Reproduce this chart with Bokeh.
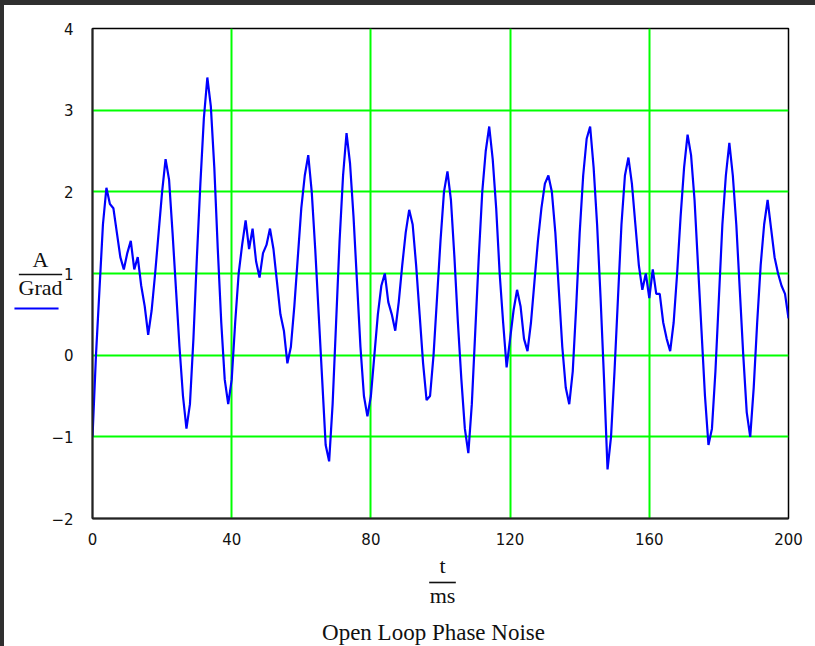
from bokeh.plotting import figure
from bokeh.models import Label, FixedTicker
from bokeh.embed import file_html
from bokeh.resources import INLINE

# ---- data ----
t_ms = list(range(0, 201))
amp = [
    -1.0, 0.0, 0.8, 1.6, 2.05, 1.85, 1.8, 1.5, 1.2, 1.05,
    1.25, 1.4, 1.05, 1.2, 0.85, 0.6, 0.25, 0.55, 1.0, 1.5,
    2.0, 2.4, 2.15, 1.5, 0.8, 0.1, -0.5, -0.9, -0.6, 0.2,
    1.2, 2.1, 2.9, 3.4, 3.05, 2.3, 1.3, 0.4, -0.3, -0.6,
    -0.3, 0.4, 1.0, 1.35, 1.65, 1.3, 1.55, 1.15, 0.95, 1.25,
    1.35, 1.55, 1.3, 0.9, 0.5, 0.3, -0.1, 0.1, 0.6, 1.2,
    1.8, 2.2, 2.45, 2.0, 1.3, 0.5, -0.3, -1.1, -1.3, -0.6,
    0.4, 1.4, 2.2, 2.72, 2.35, 1.7, 0.9, 0.1, -0.5, -0.75,
    -0.5, 0.0, 0.5, 0.85, 1.0, 0.65, 0.5, 0.3, 0.65, 1.1,
    1.5, 1.78, 1.6, 1.1, 0.5, -0.1, -0.55, -0.5, 0.0, 0.7,
    1.4, 2.0, 2.25, 1.9, 1.2, 0.4, -0.3, -0.9, -1.2, -0.6,
    0.3, 1.2, 2.0, 2.5, 2.8, 2.4, 1.8, 1.0, 0.4, -0.15,
    0.2, 0.55, 0.8, 0.6, 0.2, 0.05, 0.4, 0.9, 1.4, 1.8,
    2.1, 2.2, 2.0, 1.5, 0.8, 0.1, -0.4, -0.6, -0.2, 0.6,
    1.5, 2.2, 2.65, 2.8, 2.3, 1.6, 0.7, -0.3, -1.4, -1.0,
    -0.2, 0.7, 1.6, 2.2, 2.42, 2.1, 1.6, 1.1, 0.8, 1.0,
    0.7, 1.05, 0.75, 0.75, 0.4, 0.2, 0.05, 0.4, 1.0, 1.7,
    2.3, 2.7, 2.45, 1.9, 1.1, 0.3, -0.5, -1.1, -0.9, -0.2,
    0.7, 1.6, 2.2, 2.6, 2.2, 1.6, 0.8, 0.0, -0.7, -1.0,
    -0.4, 0.4, 1.1, 1.6, 1.9, 1.55, 1.2, 1.0, 0.85, 0.75,
    0.45,
]
x_ticks = [0, 40, 80, 120, 160, 200]
y_ticks = [-2, -1, 0, 1, 2, 3, 4]
y_tick_labels = {-2: "\u22122", -1: "\u22121", 0: "0", 1: "1", 2: "2", 3: "3", 4: "4"}
title_text = "Open Loop Phase Noise"
y_num, y_den = "A", "Grad"
x_num, x_den = "t", "ms"

GREEN = "#00ff00"
BLUE = "#0000ff"
SERIF = "Liberation Serif"
SANS = "DejaVu Sans"

p = figure(width=815, height=646, x_range=(0, 200), y_range=(-2, 4),
           output_backend="svg", toolbar_location=None,
           min_border_left=92, min_border_right=27, min_border_top=28,
           min_border_bottom=128)
p.background_fill_color = "white"
p.border_fill_color = "white"
p.outline_line_color = "black"
p.outline_line_width = 1.5

for ax, ticks in ((p.xaxis, x_ticks), (p.yaxis, y_ticks)):
    ax.ticker = FixedTicker(ticks=ticks)
    ax.major_tick_line_color = None
    ax.minor_tick_line_color = None
    ax.axis_line_color = "#222222"
    ax.axis_line_width = 2
    ax.major_label_text_font = SANS
    ax.major_label_text_font_size = "15px"
    ax.major_label_text_color = "#111111"
p.yaxis.major_label_overrides = y_tick_labels
p.xaxis.major_label_standoff = 8
p.yaxis.major_label_standoff = 13

p.xgrid.ticker = FixedTicker(ticks=x_ticks)
p.ygrid.ticker = FixedTicker(ticks=y_ticks)
for g in (p.xgrid, p.ygrid):
    g.grid_line_color = GREEN
    g.grid_line_width = 2

p.line(t_ms, amp, line_color=BLUE, line_width=2.2)

BASE_SHIFT = -8  # measured offset between requested and drawn baseline


# Labels live in the side panels (so they are not clipped to the frame);
# their positions are given in canvas pixels.
def lab(text, px, py_base, side, size="22px"):
    p.add_layout(Label(x=px, y=py_base + BASE_SHIFT, x_units="canvas", y_units="canvas",
                       text=text, text_font=SERIF, text_font_size=size,
                       text_align="center", text_baseline="alphabetic",
                       text_color="#111111"), side)


def bar(cx, length, py, color, thick, side="below"):
    fs = thick / 1.15
    n = max(1, int(round(length / (0.318 * fs))))
    p.add_layout(Label(x=cx, y=py, x_units="canvas", y_units="canvas",
                       text="\u00a0" * n, text_font=SANS,
                       text_font_size=f"{fs:.2f}px", text_align="center",
                       text_baseline="middle", background_fill_color=color,
                       background_fill_alpha=1.0, text_color=color), side)


lab(y_num, 40, 267, "above")
bar(40, 44, 274, "#111111", 1.6)
lab(y_den, 40, 295, "left")
bar(36, 44, 308, BLUE, 2.0)

lab(x_num, 442, 573, "below")
bar(442, 27, 582, "#111111", 1.6)
lab(x_den, 442, 603, "right")
lab(title_text, 433, 640, "below", size="23px")

html = file_html(p, INLINE)
css = ("<style>html,body{overflow:hidden}"
       "body::before{content:'';position:fixed;left:0;top:0;width:100%;height:5px;background:#2f2f2f;z-index:10}"
       "body::after{content:'';position:fixed;left:0;top:0;width:4px;height:100%;background:#2f2f2f;z-index:10}"
       "</style></head>")
html = html.replace("</head>", css, 1)
open("out.html", "w").write(html)
